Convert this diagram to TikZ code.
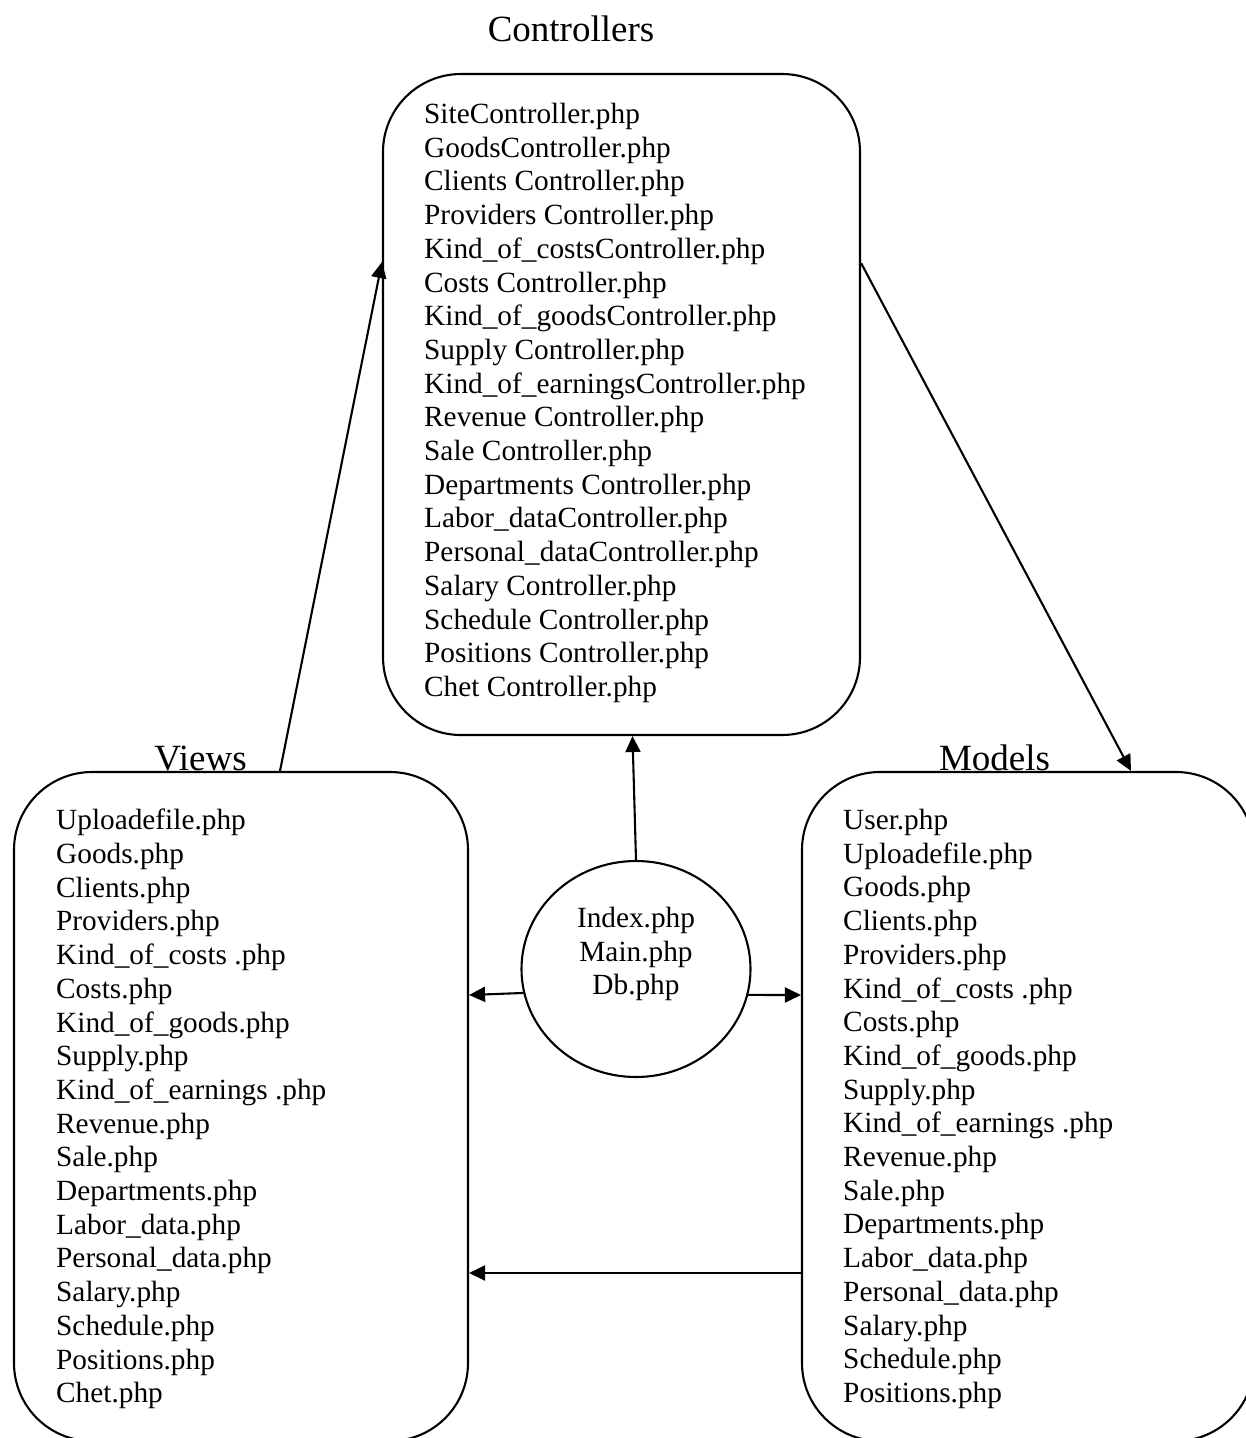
\documentclass[tikz,border=0pt]{standalone}
\usepackage{fontspec}
\setmainfont{Liberation Serif}
\usetikzlibrary{arrows.meta,shapes.geometric}

\tikzset{
  part/.style={draw, line width=2.1pt, rounded corners=78pt, inner sep=0pt},
  partname/.style={anchor=base, inner sep=0pt, font=\fontsize{37}{44}\selectfont},
  filelist/.style={anchor=north west, align=left, inner sep=0pt, font=\fontsize{29.3}{33.7}\selectfont},
  link/.style={->, line width=2.1pt}
}

\begin{document}
\begin{tikzpicture}[x=1pt, y=-1pt, >={Triangle[length=16pt,width=15pt]}]
  \useasboundingbox (0,0) rectangle (1246,1438);
  \clip (0,0) rectangle (1246,1438);

  % Controllers block
  \node[part, minimum width=477pt, minimum height=661pt] (ctrl) at (621.5,404.5) {};
  \node[partname] (ctrltitle) at (571,41) {Controllers};
  \node[filelist] (ctrllist) at (424,103) {SiteController.php\\GoodsController.php\\Clients Controller.php\\Providers Controller.php\\Kind\_of\_costsController.php\\Costs Controller.php\\Kind\_of\_goodsController.php\\Supply Controller.php\\Kind\_of\_earningsController.php\\Revenue Controller.php\\Sale Controller.php\\Departments Controller.php\\Labor\_dataController.php\\Personal\_dataController.php\\Salary Controller.php\\Schedule Controller.php\\Positions Controller.php\\Chet Controller.php};

  % Views block
  \node[part, minimum width=454pt, minimum height=669pt] (views) at (241,1106.5) {};
  \node[partname] (viewstitle) at (200.5,770) {Views};
  \node[filelist] (viewslist) at (56,809) {Uploadefile.php\\Goods.php\\Clients.php\\Providers.php\\Kind\_of\_costs .php\\Costs.php\\Kind\_of\_goods.php\\Supply.php\\Kind\_of\_earnings .php\\Revenue.php\\Sale.php\\Departments.php\\Labor\_data.php\\Personal\_data.php\\Salary.php\\Schedule.php\\Positions.php\\Chet.php};

  % Models block
  \node[part, minimum width=452pt, minimum height=669pt] (models) at (1028,1106.5) {};
  \node[partname] (modelstitle) at (994.5,770) {Models};
  \node[filelist] (modelslist) at (843,809) {User.php\\Uploadefile.php\\Goods.php\\Clients.php\\Providers.php\\Kind\_of\_costs .php\\Costs.php\\Kind\_of\_goods.php\\Supply.php\\Kind\_of\_earnings .php\\Revenue.php\\Sale.php\\Departments.php\\Labor\_data.php\\Personal\_data.php\\Salary.php\\Schedule.php\\Positions.php};

  % Entry point
  \node[draw, ellipse, line width=2.1pt, minimum width=229pt, minimum height=216pt, inner sep=0pt] (core) at (636,969) {};
  \node[anchor=north, align=center, inner sep=0pt, font=\fontsize{29.3}{33.7}\selectfont] (coretext) at (636,907) {Index.php\\Main.php\\Db.php};

  % Arrows
  \draw[link] ([xshift=39pt]views.north) -- ([yshift=142.5pt]ctrl.west);
  \draw[link] ([yshift=141.5pt]ctrl.east) -- ([xshift=103pt]models.north);
  \draw[link] (core.north) -- ([xshift=11pt]ctrl.south);
  \draw[link] (core.192) -- ([yshift=111.5pt]views.east);
  \draw[link] (core.347) -- ([yshift=111.5pt]models.west);
  \draw[link] ([yshift=-166.5pt]models.west) -- ([yshift=-166.5pt]views.east);

\end{tikzpicture}
\end{document}
